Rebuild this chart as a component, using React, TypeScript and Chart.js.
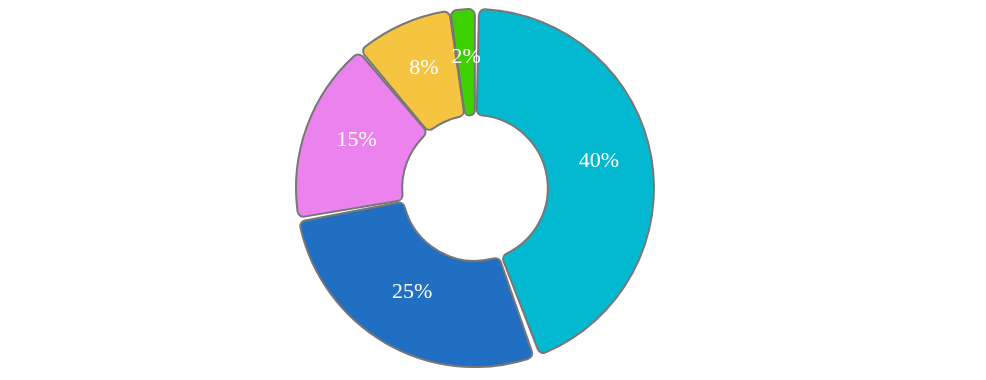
import React, { useEffect, useRef } from "react";
import { Chart, registerables } from "chart.js";

Chart.register(...registerables);

const categories = ["A", "B", "C", "D", "E"];
const values = [40, 25, 15, 8, 2];
const colors = ["#03B9D2", "#206FC2", "#EB82EE", "#F5C542", "#3DD102"];

const labelPlugin = {
  id: "sliceLabels",
  afterDatasetsDraw(chart: any) {
    const ctx = chart.ctx;
    const meta = chart.getDatasetMeta(0);
    ctx.save();
    ctx.fillStyle = "#ffffff";
    ctx.font = '22px "Times New Roman", "Liberation Serif", serif';
    ctx.textAlign = "center";
    ctx.textBaseline = "middle";
    meta.data.forEach((arc: any, i: number) => {
      const p = arc.getCenterPoint();
      ctx.fillText(values[i] + "%", p.x, p.y - 5);
    });
    ctx.restore();
  },
};

export default function App() {
  const ref = useRef<HTMLCanvasElement>(null);
  useEffect(() => {
    if (!ref.current) return;
    const chart = new Chart(ref.current, {
      type: "doughnut",
      data: {
        labels: categories,
        datasets: [
          {
            data: values,
            backgroundColor: colors,
            borderColor: "#777777",
            borderWidth: 2,
            borderRadius: 6,
            spacing: 4,
          },
        ],
      },
      options: {
        animation: false,
        responsive: true,
        maintainAspectRatio: false,
        cutout: "40%",
        plugins: {
          legend: { display: false },
          tooltip: { enabled: false },
        },
      },
      plugins: [labelPlugin],
    });
    return () => chart.destroy();
  }, []);
  return (
    <div style={{ position: "relative", width: 934, height: 360 }}>
      <canvas ref={ref} />
    </div>
  );
}
